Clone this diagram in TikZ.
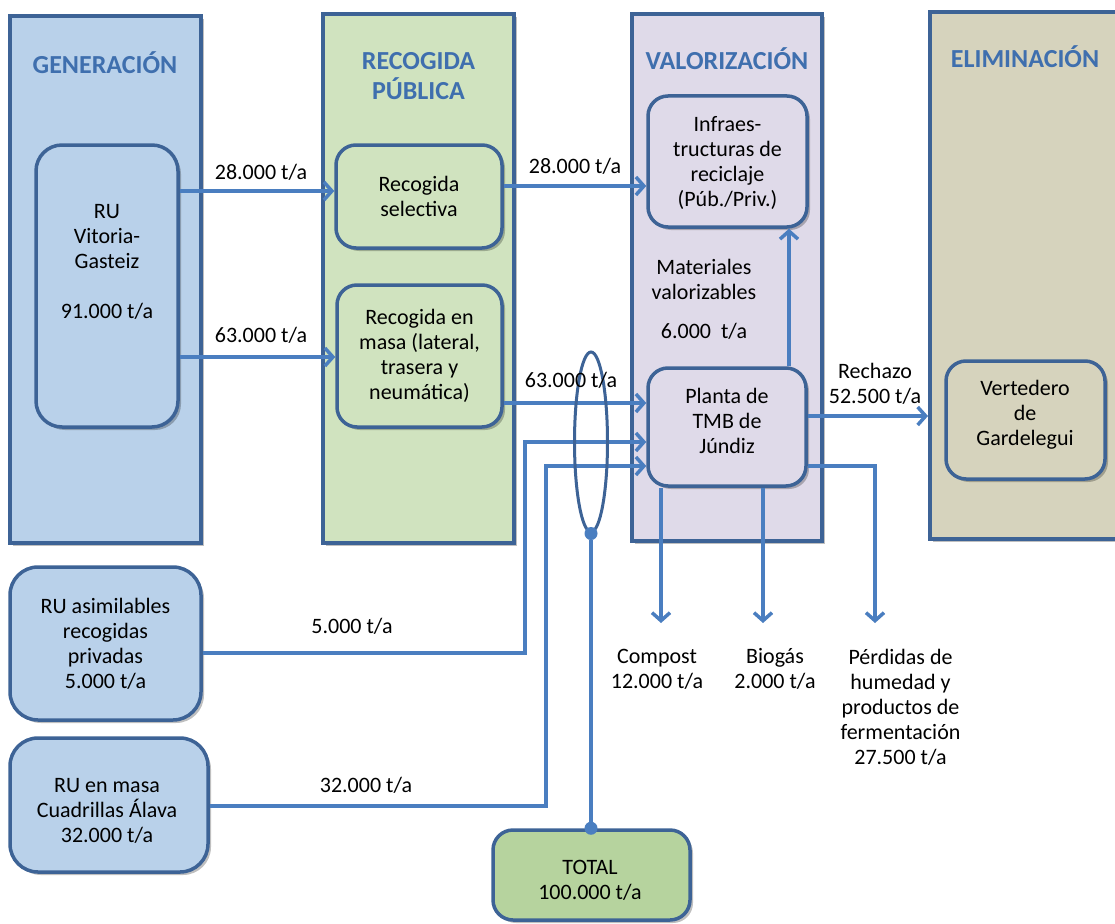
\documentclass[tikz,border=0pt]{standalone}
\usepackage{fontspec}
\setmainfont{Carlito}
\usetikzlibrary{arrows.meta,shadows,shapes.geometric}
\definecolor{strokeC}{HTML}{3D6396}
\definecolor{arrowC}{HTML}{4A7EC0}
\definecolor{titleC}{HTML}{3F6FAE}
\definecolor{genC}{HTML}{B9D1EA}
\definecolor{recC}{HTML}{D0E3BF}
\definecolor{valC}{HTML}{DFDAE9}
\definecolor{elimC}{HTML}{D6D3BD}
\definecolor{totC}{HTML}{B6D39E}
\newcommand{\bodyfont}{\fontsize{22}{25}\selectfont}
\newcommand{\headfont}{\fontsize{26}{30}\selectfont\bfseries}
\begin{document}
\begin{tikzpicture}[x=1pt,y=-1pt,
  shade/.style={drop shadow={shadow xshift=3pt,shadow yshift=-3pt,opacity=0.25,fill=black}},
  col/.style={draw=strokeC,line width=4pt,inner sep=0pt,shade},
  box/.style={draw=strokeC,line width=3.5pt,rounded corners=#1,inner sep=0pt,align=center,font=\bodyfont,shade},
  box/.default=20pt,
  title/.style={font=\headfont,text=titleC,align=center,inner sep=0pt},
  txt/.style={font=\bodyfont,align=center,inner sep=0pt},
  flow/.style={draw=arrowC,line width=3.5pt,-{Straight Barb[length=8pt,width=18pt]}},
  plain/.style={draw=arrowC,line width=3.5pt},
  dot/.style={circle,fill=arrowC,inner sep=0pt,minimum size=13pt}
]
\clip (0,0) rectangle (1115,923);
\fill[white] (0,0) rectangle (1115,923);

% columns
\node[col,fill=genC,minimum width=191pt,minimum height=527pt] (gen) at (105.5,279.5) {};
\node[col,fill=recC,minimum width=191pt,minimum height=529pt] (rec) at (418.5,278.5) {};
\node[col,fill=valC,minimum width=190pt,minimum height=527pt] (val) at (727,277.5) {};
\node[col,fill=elimC,minimum width=200pt,minimum height=527pt] (elim) at (1030,275.5) {};

\node[title] (genT) at (105,63) {GENERACIÓN};
\node[title] (recT) at (418.5,76.5) {RECOGIDA\\PÚBLICA};
\node[title] (valT) at (727,59) {VALORIZACIÓN};
\node[title] (elimT) at (1025,57) {ELIMINACIÓN};

% boxes
\node[box=26pt,fill=genC,minimum width=142pt,minimum height=282pt] (ruvg) at (107,286) {};
\node[txt] (ruvgT) at (107,262) {RU\\Vitoria-\\Gasteiz\\[25pt]91.000 t/a};
\node[box,fill=recC,minimum width=166pt,minimum height=103pt] (sel) at (419,196.5) {Recogida\\selectiva};
\node[box,fill=recC,minimum width=165pt,minimum height=142pt] (masa) at (419.5,356) {Recogida en\\masa (lateral,\\trasera y\\neumática)};
\node[box,fill=valC,minimum width=159pt,minimum height=131pt] (infra) at (727.5,161.5) {};
\node[txt] (infraT) at (727.5,163) {Infraes-\\tructuras de\\reciclaje\\(Púb./Priv.)};
\node[box,fill=valC,minimum width=158pt,minimum height=118pt] (planta) at (727,427) {};
\node[txt] (plantaT) at (727,421) {Planta de\\TMB de\\Júndiz};
\node[box,fill=elimC,minimum width=159pt,minimum height=118pt] (vert) at (1025.5,420) {};
\node[txt] (vertT) at (1025,415) {Vertedero\\de\\Gardelegui};
\node[box=28pt,fill=genC,minimum width=191pt,minimum height=153pt] (ruasim) at (105.5,643.5) {RU asimilables\\recogidas\\privadas\\5.000 t/a};
\node[box=28pt,fill=genC,minimum width=198pt,minimum height=134pt] (rumasa) at (109,805) {};
\node[txt] (rumasaT) at (107,810.5) {RU en masa\\Cuadrillas Álava\\32.000 t/a};
\node[box,fill=totC,minimum width=197pt,minimum height=90pt] (total) at (591.5,875) {};
\node[txt] (totalT) at (590,880.5) {TOTAL\\100.000 t/a};

% helper coordinates
\coordinate (j5) at (525,442);
\coordinate (j32) at (546,466);
\coordinate (up) at (789,0);
\coordinate (cEnd) at (661,623);
\coordinate (bEnd) at (763,623);
\coordinate (pEnd) at (875,623);

% connectors
\draw[flow] (ruvg.east |- 0,191) -- (sel.west |- 0,191);
\draw[flow] (ruvg.east |- 0,357) -- (masa.west |- 0,357);
\draw[flow] (sel.east |- 0,186) -- (infra.west |- 0,186);
\draw[flow] (masa.east |- 0,403) -- (planta.west |- 0,403);
\draw[flow] (ruasim.east |- 0,653) -| (j5) -- (planta.west |- j5);
\draw[flow] (rumasa.east |- 0,806) -| (j32) -- (planta.west |- j32);
\draw[flow] (planta.north -| up) -- (infra.south -| up);
\draw[flow] (planta.east |- 0,416) -- (elim.west |- 0,416);
\draw[flow] (planta.south -| cEnd) -- (cEnd);
\draw[flow] (planta.south -| bEnd) -- (bEnd);
\draw[flow] (planta.east |- 0,466) -| (pEnd);

% ellipse and total
\node[ellipse,draw=strokeC,line width=3pt,minimum width=33pt,minimum height=180pt,inner sep=0pt] (ell) at (591,442) {};
\node[dot] (dotA) at (ell.south) {};
\node[dot] (dotB) at (total.north -| dotA) {};
\draw[plain] (dotA) -- (dotB);

% labels
\node[txt] (l1) at (261,172) {28.000 t/a};
\node[txt] (l2) at (261,335) {63.000 t/a};
\node[txt] (l3) at (575,166) {28.000 t/a};
\node[txt] (l4) at (571,380) {63.000 t/a};
\node[txt] (l5) at (352,626) {5.000 t/a};
\node[txt] (l6) at (366,785) {32.000 t/a};
\node[txt] (mat) at (704,279) {Materiales\\valorizables};
\node[txt] (mat6) at (704,331) {6.000~~t/a};
\node[txt] (rech) at (875,383.5) {Rechazo\\52.500 t/a};
\node[txt] (comp) at (657,669) {Compost\\12.000 t/a};
\node[txt] (bio) at (775,669) {Biogás\\2.000 t/a};
\node[txt] (perd) at (900.5,707) {Pérdidas de\\humedad y\\productos de\\fermentación\\27.500 t/a};
\end{tikzpicture}
\end{document}
